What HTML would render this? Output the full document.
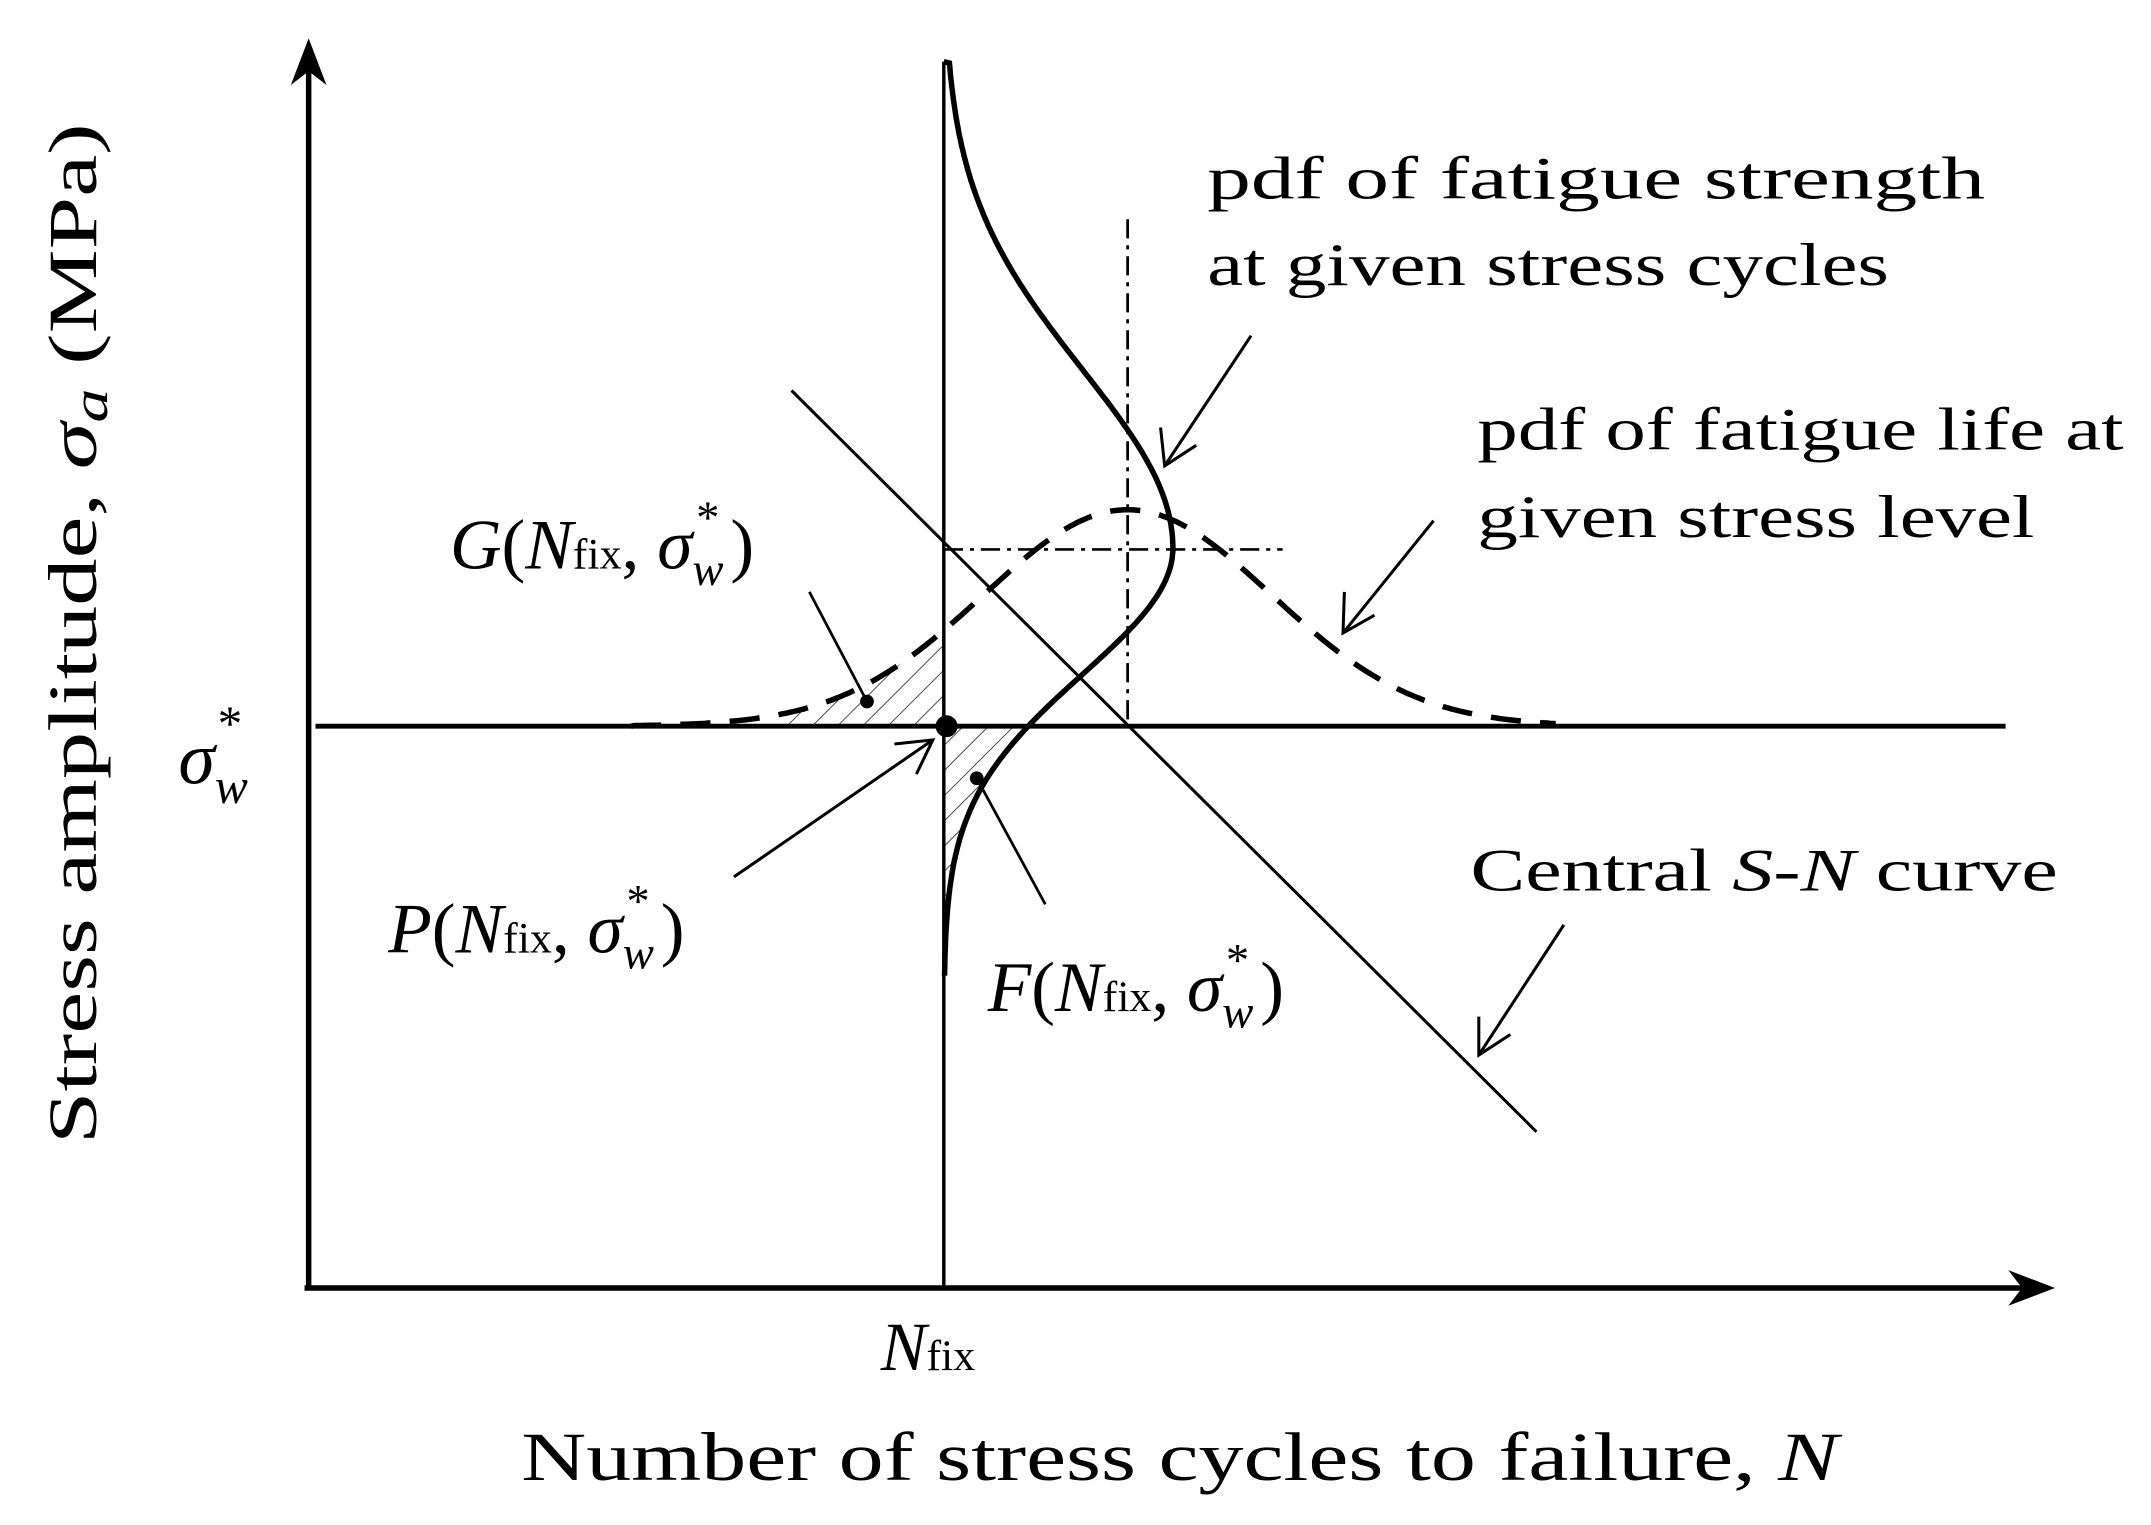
<!DOCTYPE html>
<html><head><meta charset="utf-8"><style>
html,body{margin:0;padding:0;background:#fff;}
svg{display:block;}
text{font-family:"Liberation Serif","Times New Roman",serif;fill:#000;}
</style></head><body>
<svg id="s" width="2151" height="1525" viewBox="0 0 1568 1113" preserveAspectRatio="none" xmlns="http://www.w3.org/2000/svg">
<defs>
<pattern id="h" width="13" height="13" patternUnits="userSpaceOnUse" patternTransform="rotate(45)">
<line x1="0" y1="0" x2="0" y2="13" stroke="#444" stroke-width="1.4"/>
</pattern>
</defs>
<path id="hatchA" d="" fill="url(#h)"/>
<path id="hatchB" d="" fill="url(#h)"/>
<line x1="225" y1="40" x2="225" y2="940" stroke="#000" stroke-width="4"/>
<polygon points="225,28 212,62 225,52 238,62" fill="#000"/>
<line x1="222" y1="940" x2="1485" y2="940" stroke="#000" stroke-width="4"/>
<polygon points="1498,940 1464,927 1474,940 1464,953" fill="#000"/>
<line x1="688" y1="45" x2="688" y2="940" stroke="#000" stroke-width="2.5"/>
<line x1="230" y1="530" x2="1462" y2="530" stroke="#000" stroke-width="3.5"/>
<line x1="822" y1="160" x2="822" y2="530" stroke="#000" stroke-width="2" stroke-dasharray="14,5,3,5"/>
<line x1="688" y1="401" x2="935" y2="401" stroke="#000" stroke-width="2" stroke-dasharray="14,5,3,5"/>
<line x1="577" y1="285" x2="1120" y2="826" stroke="#000" stroke-width="2.2"/>
<path id="str" d="" fill="none" stroke="#000" stroke-width="4"/>
<path id="life" d="" fill="none" stroke="#000" stroke-width="4" stroke-dasharray="22,14"/>
<circle cx="690" cy="530" r="8" fill="#000"/>
<line x1="590" y1="432" x2="632" y2="512" stroke="#000" stroke-width="2"/>
<circle cx="632" cy="512" r="5" fill="#000"/>
<line x1="762" y1="660" x2="712" y2="568" stroke="#000" stroke-width="2"/>
<circle cx="712" cy="568" r="5" fill="#000"/>
<g stroke="#000" stroke-width="2.2" fill="none">
<line x1="912" y1="245" x2="849" y2="340"/><polyline points="846,312 849,340 872,325"/>
<line x1="1045" y1="380" x2="979" y2="462"/><polyline points="980,432 979,462 1002,449"/>
<line x1="1140" y1="675" x2="1078" y2="770"/><polyline points="1078,742 1078,770 1101,755"/>
<line x1="535" y1="640" x2="680" y2="540"/><polyline points="652,543 680,540 668,565"/>
</g>
<text x="880" y="145" font-size="44" textLength="567" lengthAdjust="spacingAndGlyphs">pdf of fatigue strength</text>
<text x="880" y="208" font-size="44" textLength="497" lengthAdjust="spacingAndGlyphs">at given stress cycles</text>
<text x="1077" y="328" font-size="44" textLength="471" lengthAdjust="spacingAndGlyphs">pdf of fatigue life at</text>
<text x="1077" y="392" font-size="44" textLength="406" lengthAdjust="spacingAndGlyphs">given stress level</text>
<text x="1072" y="650" font-size="44" textLength="428" lengthAdjust="spacingAndGlyphs">Central <tspan font-style="italic">S</tspan>-<tspan font-style="italic">N</tspan> curve</text>
<text x="328" y="415" font-size="52"><tspan font-style="italic">G</tspan>(<tspan font-style="italic">N</tspan><tspan font-size="32">fix</tspan>, <tspan font-style="italic">σ</tspan><tspan font-style="italic" font-size="34" dy="12">w</tspan><tspan font-size="34" dx="-20" dy="-38">*</tspan><tspan dy="26" dx="8">)</tspan></text>
<text x="283" y="695" font-size="52"><tspan font-style="italic">P</tspan>(<tspan font-style="italic">N</tspan><tspan font-size="32">fix</tspan>, <tspan font-style="italic">σ</tspan><tspan font-style="italic" font-size="34" dy="12">w</tspan><tspan font-size="34" dx="-20" dy="-38">*</tspan><tspan dy="26" dx="8">)</tspan></text>
<text x="720" y="738" font-size="52"><tspan font-style="italic">F</tspan>(<tspan font-style="italic">N</tspan><tspan font-size="32">fix</tspan>, <tspan font-style="italic">σ</tspan><tspan font-style="italic" font-size="34" dy="12">w</tspan><tspan font-size="34" dx="-20" dy="-38">*</tspan><tspan dy="26" dx="8">)</tspan></text>
<text x="130" y="572" font-size="54"><tspan font-style="italic">σ</tspan><tspan font-style="italic" font-size="36" dy="14">w</tspan><tspan font-size="36" dx="-22" dy="-46">*</tspan></text>
<text x="642" y="1000" font-size="50"><tspan font-style="italic">N</tspan><tspan font-size="32">fix</tspan></text>
<text x="380" y="1080" font-size="50" textLength="960" lengthAdjust="spacingAndGlyphs">Number of stress cycles to failure, <tspan font-style="italic">N</tspan></text>
<text transform="translate(70,835) rotate(-90)" font-size="50" textLength="745" lengthAdjust="spacingAndGlyphs">Stress amplitude,  <tspan font-style="italic">σ<tspan font-size="36" dy="8">a</tspan></tspan><tspan dy="-8">  (MPa)</tspan></text>
</svg>
<script>
(function(){
function sx(y){var s=y<400?130:92;return 688+167*Math.exp(-Math.pow((y-400)/s,2)/2);}
var d="M688,45";for(var y=46;y<=712;y+=2){d+=" L"+sx(y).toFixed(1)+","+y;}
document.getElementById('str').setAttribute('d',d);
function ly(x){return 530-158*Math.exp(-Math.pow((x-822)/105,2)/2);}
var e="M460,530";for(var x=462;x<=1135;x+=2){e+=" L"+x+","+ly(x).toFixed(1);}
document.getElementById('life').setAttribute('d',e);
var a="M570,530";for(var x=570;x<=688;x+=2){a+=" L"+x+","+ly(x).toFixed(1);}a+=" L688,530 Z";
document.getElementById('hatchA').setAttribute('d',a);
var b="M688,530";for(var y=530;y<=712;y+=2){b+=" L"+sx(y).toFixed(1)+","+y;}b+=" L688,712 Z";
document.getElementById('hatchB').setAttribute('d',b);
})();
</script>
</body></html>
